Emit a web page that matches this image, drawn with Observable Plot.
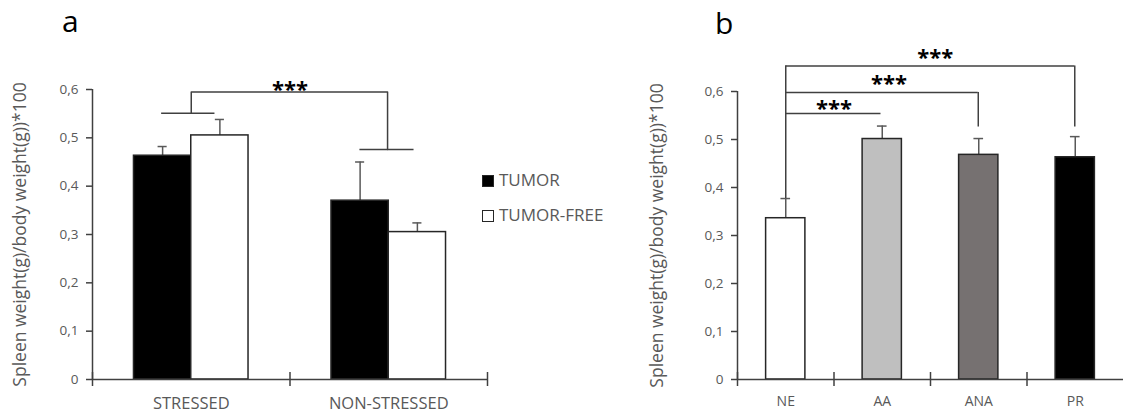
<!DOCTYPE html>
<html>
<head>
<meta charset="utf-8">
<script src="https://cdn.jsdelivr.net/npm/d3@7"></script>
<script src="https://cdn.jsdelivr.net/npm/@observablehq/plot@0.6"></script>
<style>
  html, body { margin: 0; padding: 0; background: #fff; }
  #root { position: relative; width: 1123px; height: 414px; overflow: hidden; font-family: "Open Sans", sans-serif; }
  #root > .panel { position: absolute; top: 0; }
  .title { position: absolute; color: #000; line-height: normal; }
  .legend-item { position: absolute; font-size: 17px; line-height: 17px; color: #595959; white-space: nowrap; }
  .sw { position: absolute; width: 10px; height: 10px; border: 1px solid #262626; }
</style>
</head>
<body>
<div id="root"></div>
<script>
// ---------- data ----------
const categoriesA = ["STRESSED", "NON-STRESSED"];
const seriesA = ["TUMOR", "TUMOR-FREE"];
const tumorMean = [0.463, 0.370];
const tumorErr = [0.019, 0.080];
const tumorFreeMean = [0.505, 0.305];
const tumorFreeErr = [0.033, 0.019];

const categoriesB = ["NE", "AA", "ANA", "PR"];
const meansB = [0.336, 0.501, 0.468, 0.463];
const errB = [0.041, 0.027, 0.034, 0.043];

const yTickValues = [0, 0.1, 0.2, 0.3, 0.4, 0.5, 0.6];
const yTickLabels = ["0", "0,1", "0,2", "0,3", "0,4", "0,5", "0,6"];
const yLabel = "Spleen weight(g)/body weight(g))*100";
const panelTitles = ["a", "b"];
const sigLabel = "***";

// ---------- styles ----------
const axisColor = "#404040";
const textGray = "#595959";
const barStroke = "#262626";
const seriesColors = ["#000000", "#ffffff"];
const groupColors = ["#ffffff", "#bfbfbf", "#767171", "#000000"];
const fmtTick = d => yTickLabels[yTickValues.findIndex(v => Math.abs(v - d) < 1e-9)];

const root = document.getElementById("root");

// ---------- panel a ----------
const halfA = 0.29;      // bar width in category units
const capA = 0.023;
const rowsA = categoriesA.flatMap((c, i) => [
  {cat: c, i, series: seriesA[0], mean: tumorMean[i], err: tumorErr[i], x1: i + 0.5 - halfA, x2: i + 0.5},
  {cat: c, i, series: seriesA[1], mean: tumorFreeMean[i], err: tumorFreeErr[i], x1: i + 0.5, x2: i + 0.5 + halfA}
]);
rowsA.forEach(d => { d.xc = (d.x1 + d.x2) / 2; d.top = d.mean + d.err; });

// bracket: groups compared (STRESSED vs NON-STRESSED)
const brA = {left: 0.5, right: 1.494, yTop: 0.595, yLeft: 0.551, yRight: 0.476};
const bracketPathA = [
  {x: brA.left, y: brA.yLeft}, {x: brA.left, y: brA.yTop},
  {x: brA.right, y: brA.yTop}, {x: brA.right, y: brA.yRight}
];
const bracketCapsA = [
  {x1: brA.left - 0.15, x2: brA.left + 0.12, y: brA.yLeft},
  {x1: brA.right - 0.14, x2: brA.right + 0.134, y: brA.yRight}
];

const plotA = Plot.plot({
  width: 490, height: 414,
  marginLeft: 92, marginRight: 3, marginTop: 89, marginBottom: 35,
  x: {domain: [0, categoriesA.length]},
  y: {domain: [0, 0.6]},
  color: {domain: seriesA, range: seriesColors},
  style: {fontFamily: "Open Sans", background: "transparent", overflow: "visible"},
  marks: [
    Plot.ruleX(rowsA, {x: "xc", y1: "mean", y2: "top", stroke: textGray, strokeWidth: 1.5}),
    Plot.ruleY(rowsA, {y: "top", x1: d => d.xc - capA, x2: d => d.xc + capA, stroke: textGray, strokeWidth: 1.5}),
    Plot.rectY(rowsA, {x1: "x1", x2: "x2", y1: 0, y2: "mean", fill: "series", stroke: barStroke, strokeWidth: 1.5}),
    Plot.ruleY([0], {stroke: axisColor, strokeWidth: 1.5}),
    Plot.ruleX([0], {y1: 0, y2: 0.6, stroke: axisColor, strokeWidth: 1.5}),
    Plot.axisY({ticks: yTickValues, tickFormat: fmtTick, tickSize: 6, tickPadding: 8, fontSize: 13.5, fill: textGray, stroke: axisColor, strokeWidth: 1.5, label: null}),
    Plot.axisX({ticks: d3.range(categoriesA.length + 1), tickSize: 14, dy: -7, tickFormat: () => "", stroke: axisColor, strokeWidth: 1.5, label: null}),
    Plot.axisX({ticks: categoriesA.map((c, i) => i + 0.5), tickSize: 0, tickPadding: 18, tickFormat: d => categoriesA[Math.floor(d)], fontSize: 16.5, fill: textGray, label: null}),
    Plot.line(bracketPathA, {x: "x", y: "y", stroke: axisColor, strokeWidth: 1.5}),
    Plot.ruleY(bracketCapsA, {x1: "x1", x2: "x2", y: "y", stroke: axisColor, strokeWidth: 1.5}),
    Plot.text([sigLabel], {x: 1.0, y: 0.608, text: d => d, fontSize: 22, fontWeight: "bold", fill: "#000", dy: 4}),
    Plot.text([yLabel], {frameAnchor: "left", textAnchor: "middle", rotate: -90, dx: -72, text: d => d, fontSize: 17.5, fill: textGray})
  ]
});
plotA.classList.add("panel");
plotA.style.left = "0px";
root.appendChild(plotA);

// ---------- panel b ----------
const halfB = 0.2035;
const capB = 0.05;
const rowsB = categoriesB.map((c, i) => ({cat: c, i, mean: meansB[i], err: errB[i], xc: i + 0.5, top: meansB[i] + errB[i]}));

// brackets: NE vs AA, NE vs ANA, NE vs PR
const brB = [
  {to: 1, yLine: 0.554, yDrop: null, starX: 1.0, starY: 0.572},
  {to: 2, yLine: 0.598, yDrop: 0.526, starX: 1.57, starY: 0.624},
  {to: 3, yLine: 0.653, yDrop: 0.526, starX: 2.05, starY: 0.678}
];
const neTop = rowsB[0].top;
const bracketLinesB = [{x: 0.5, y1: neTop, y2: 0.653}];
const hLinesB = brB.map(b => ({x1: 0.5, x2: b.to + (b.yDrop == null ? 0.487 : 0.495), y: b.yLine}));
const dropsB = brB.filter(b => b.yDrop != null).map(b => ({x: b.to + 0.495, y1: b.yLine, y2: b.yDrop}));

const plotB = Plot.plot({
  width: 503, height: 414,
  marginLeft: 117, marginRight: 0, marginTop: 91, marginBottom: 35,
  x: {domain: [0, categoriesB.length]},
  y: {domain: [0, 0.6]},
  color: {domain: categoriesB, range: groupColors},
  style: {fontFamily: "Open Sans", background: "transparent", overflow: "visible"},
  marks: [
    Plot.ruleX(rowsB, {x: "xc", y1: "mean", y2: "top", stroke: textGray, strokeWidth: 1.5}),
    Plot.ruleY(rowsB, {y: "top", x1: d => d.xc - capB, x2: d => d.xc + capB, stroke: textGray, strokeWidth: 1.5}),
    Plot.rectY(rowsB, {x1: d => d.xc - halfB, x2: d => d.xc + halfB, y1: 0, y2: "mean", fill: "cat", stroke: barStroke, strokeWidth: 1.5}),
    Plot.ruleY([0], {stroke: axisColor, strokeWidth: 1.5}),
    Plot.ruleX([0], {y1: 0, y2: 0.6, stroke: axisColor, strokeWidth: 1.5}),
    Plot.axisY({ticks: yTickValues, tickFormat: fmtTick, tickSize: 6, tickPadding: 8, fontSize: 13.5, fill: textGray, stroke: axisColor, strokeWidth: 1.5, label: null}),
    Plot.axisX({ticks: d3.range(categoriesB.length), tickSize: 14, dy: -7, tickFormat: () => "", stroke: axisColor, strokeWidth: 1.5, label: null}),
    Plot.axisX({ticks: categoriesB.map((c, i) => i + 0.5), tickSize: 0, tickPadding: 17, tickFormat: d => categoriesB[Math.floor(d)], fontSize: 14, fill: textGray, label: null}),
    Plot.ruleX(bracketLinesB, {x: "x", y1: "y1", y2: "y2", stroke: axisColor, strokeWidth: 1.5}),
    Plot.ruleY(hLinesB, {x1: "x1", x2: "x2", y: "y", stroke: axisColor, strokeWidth: 1.5}),
    Plot.ruleX(dropsB, {x: "x", y1: "y1", y2: "y2", stroke: axisColor, strokeWidth: 1.5}),
    Plot.text(brB, {x: "starX", y: "starY", text: () => sigLabel, fontSize: 22, fontWeight: "bold", fill: "#000", dy: 4}),
    Plot.text([yLabel], {frameAnchor: "left", textAnchor: "middle", rotate: -90, dx: -80, text: d => d, fontSize: 17.5, fill: textGray})
  ]
});
plotB.classList.add("panel");
plotB.style.left = "620px";
root.appendChild(plotB);

// ---------- titles ----------
const titlePos = [{left: 62, top: 0, size: 30}, {left: 715, top: 2, size: 30}];
panelTitles.forEach((t, i) => {
  const el = document.createElement("div");
  el.className = "title";
  el.textContent = t;
  el.style.left = titlePos[i].left + "px";
  el.style.top = titlePos[i].top + "px";
  el.style.fontSize = titlePos[i].size + "px";
  root.appendChild(el);
});

// ---------- legend (panel a) ----------
const legendTops = [170.5, 205.8];
seriesA.forEach((s, i) => {
  const sw = document.createElement("div");
  sw.className = "sw";
  sw.style.left = "482px";
  sw.style.top = (legendTops[i] + 4) + "px";
  sw.style.background = seriesColors[i];
  root.appendChild(sw);
  const lab = document.createElement("div");
  lab.className = "legend-item";
  lab.textContent = s;
  lab.style.left = "499px";
  lab.style.top = legendTops[i] + "px";
  root.appendChild(lab);
});
</script>
</body>
</html>
